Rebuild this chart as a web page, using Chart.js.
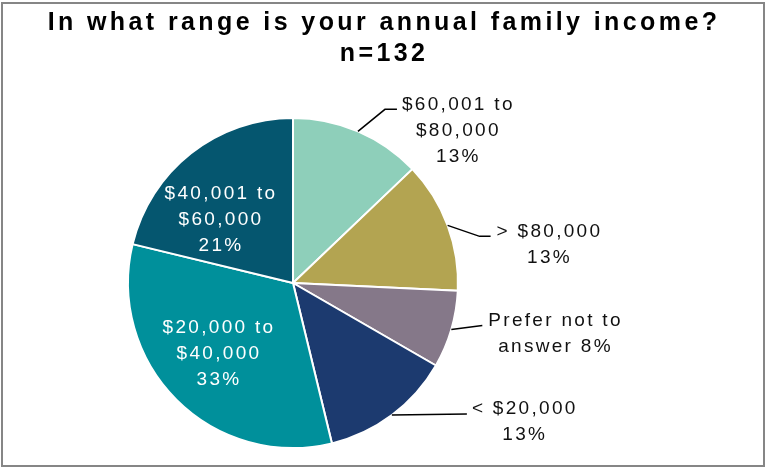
<!DOCTYPE html>
<html>
<head>
<meta charset="utf-8">
<script src="https://cdn.jsdelivr.net/npm/chart.js@4.4.1/dist/chart.umd.min.js"></script>
<style>
  html, body { margin: 0; padding: 0; background: #fff; }
  #wrap { position: relative; width: 765px; height: 468px; }
</style>
</head>
<body>
<div id="wrap"><canvas id="c" width="765" height="468"></canvas></div>
<script>
// ---- data ----
const titleLines = ['In what range is your annual family income?', 'n=132'];
const categories = [
  ['$60,001 to', '$80,000'],
  ['> $80,000'],
  ['Prefer not to', 'answer'],
  ['< $20,000'],
  ['$20,000 to', '$40,000'],
  ['$40,001 to', '$60,000']
];
const counts = [17, 17, 10, 17, 43, 28];
const sliceColors = ['#8ecfba', '#b3a451', '#857889', '#1c3a6f', '#00909b', '#05566f'];

// ---- label placement (styling) ----
const placement = [
  { inside: false, ex: 27, ey: -22, len: 12, gap: 4 },
  { inside: false, ex: 32, ey: 11, len: 11, gap: 5 },
  { inside: false, ex: 31, ey: -4, len: 0, gap: 5, inline: true },
  { inside: false, ex: 75, ey: -1, len: 0, gap: 4 },
  { inside: true, dx: -75, dy: 71 },
  { inside: true, dx: -73, dy: -63 }
];

const FONT = '"Liberation Sans", Arial, sans-serif';

const decorPlugin = {
  id: 'decor',
  afterDraw(chart, args, opts) {
    const ctx = chart.ctx;
    ctx.save();
    // frame
    ctx.strokeStyle = '#868686';
    ctx.lineWidth = 2;
    ctx.strokeRect(2, 3, 762, 463);
    // title
    ctx.fillStyle = '#000';
    ctx.font = 'bold 25px ' + FONT;
    ctx.letterSpacing = '3.4px';
    ctx.textAlign = 'center';
    ctx.textBaseline = 'alphabetic';
    ctx.fillText(titleLines[0], 384, 30);
    ctx.fillText(titleLines[1], 384, 61);

    // slice labels
    ctx.textBaseline = 'middle';
    const meta = chart.getDatasetMeta(0);
    const total = counts.reduce((a, b) => a + b, 0);
    ctx.font = '19px ' + FONT;
    ctx.letterSpacing = '2.3px';
    const lh = 26;
    meta.data.forEach((arc, i) => {
      const p = arc.getProps(['x', 'y', 'startAngle', 'endAngle', 'outerRadius'], true);
      const mid = (p.startAngle + p.endAngle) / 2;
      const cfg = opts.place[i];
      const pct = Math.round(counts[i] / total * 100) + '%';
      const lines = categories[i].slice();
      if (cfg.inline) lines[lines.length - 1] += ' ' + pct; else lines.push(pct);
      const w = Math.max(...lines.map(l => ctx.measureText(l).width));
      if (cfg.inside) {
        ctx.fillStyle = '#ffffff';
        const cx = p.x + cfg.dx, cy = p.y + cfg.dy;
        const y0 = cy - (lines.length - 1) * lh / 2;
        lines.forEach((l, k) => ctx.fillText(l, cx + 1, y0 + k * lh));
      } else {
        const px = p.x + p.outerRadius * Math.cos(mid);
        const py = p.y + p.outerRadius * Math.sin(mid);
        const ex = px + cfg.ex, ey = py + cfg.ey, fx = ex + cfg.len;
        ctx.strokeStyle = '#000';
        ctx.lineWidth = 1.5;
        ctx.beginPath();
        ctx.moveTo(px, py);
        ctx.lineTo(ex, ey);
        ctx.lineTo(fx, ey);
        ctx.stroke();
        ctx.fillStyle = '#111';
        const left = fx + cfg.gap;
        const cx = left + w / 2 + 1;
        lines.forEach((l, k) => ctx.fillText(l, cx, ey - 5 + k * lh));
      }
    });
    ctx.restore();
  }
};

new Chart(document.getElementById('c'), {
  type: 'pie',
  data: {
    labels: categories.map(c => c.join(' ')),
    datasets: [{
      data: counts,
      backgroundColor: sliceColors,
      borderColor: '#ffffff',
      borderWidth: 2
    }]
  },
  options: {
    responsive: false,
    animation: false,
    layout: { padding: { left: 127, right: 306, top: 117, bottom: 19 } },
    plugins: {
      legend: { display: false },
      tooltip: { enabled: false },
      title: { display: false },
      decor: { place: placement }
    }
  },
  plugins: [decorPlugin]
});
</script>
</body>
</html>
